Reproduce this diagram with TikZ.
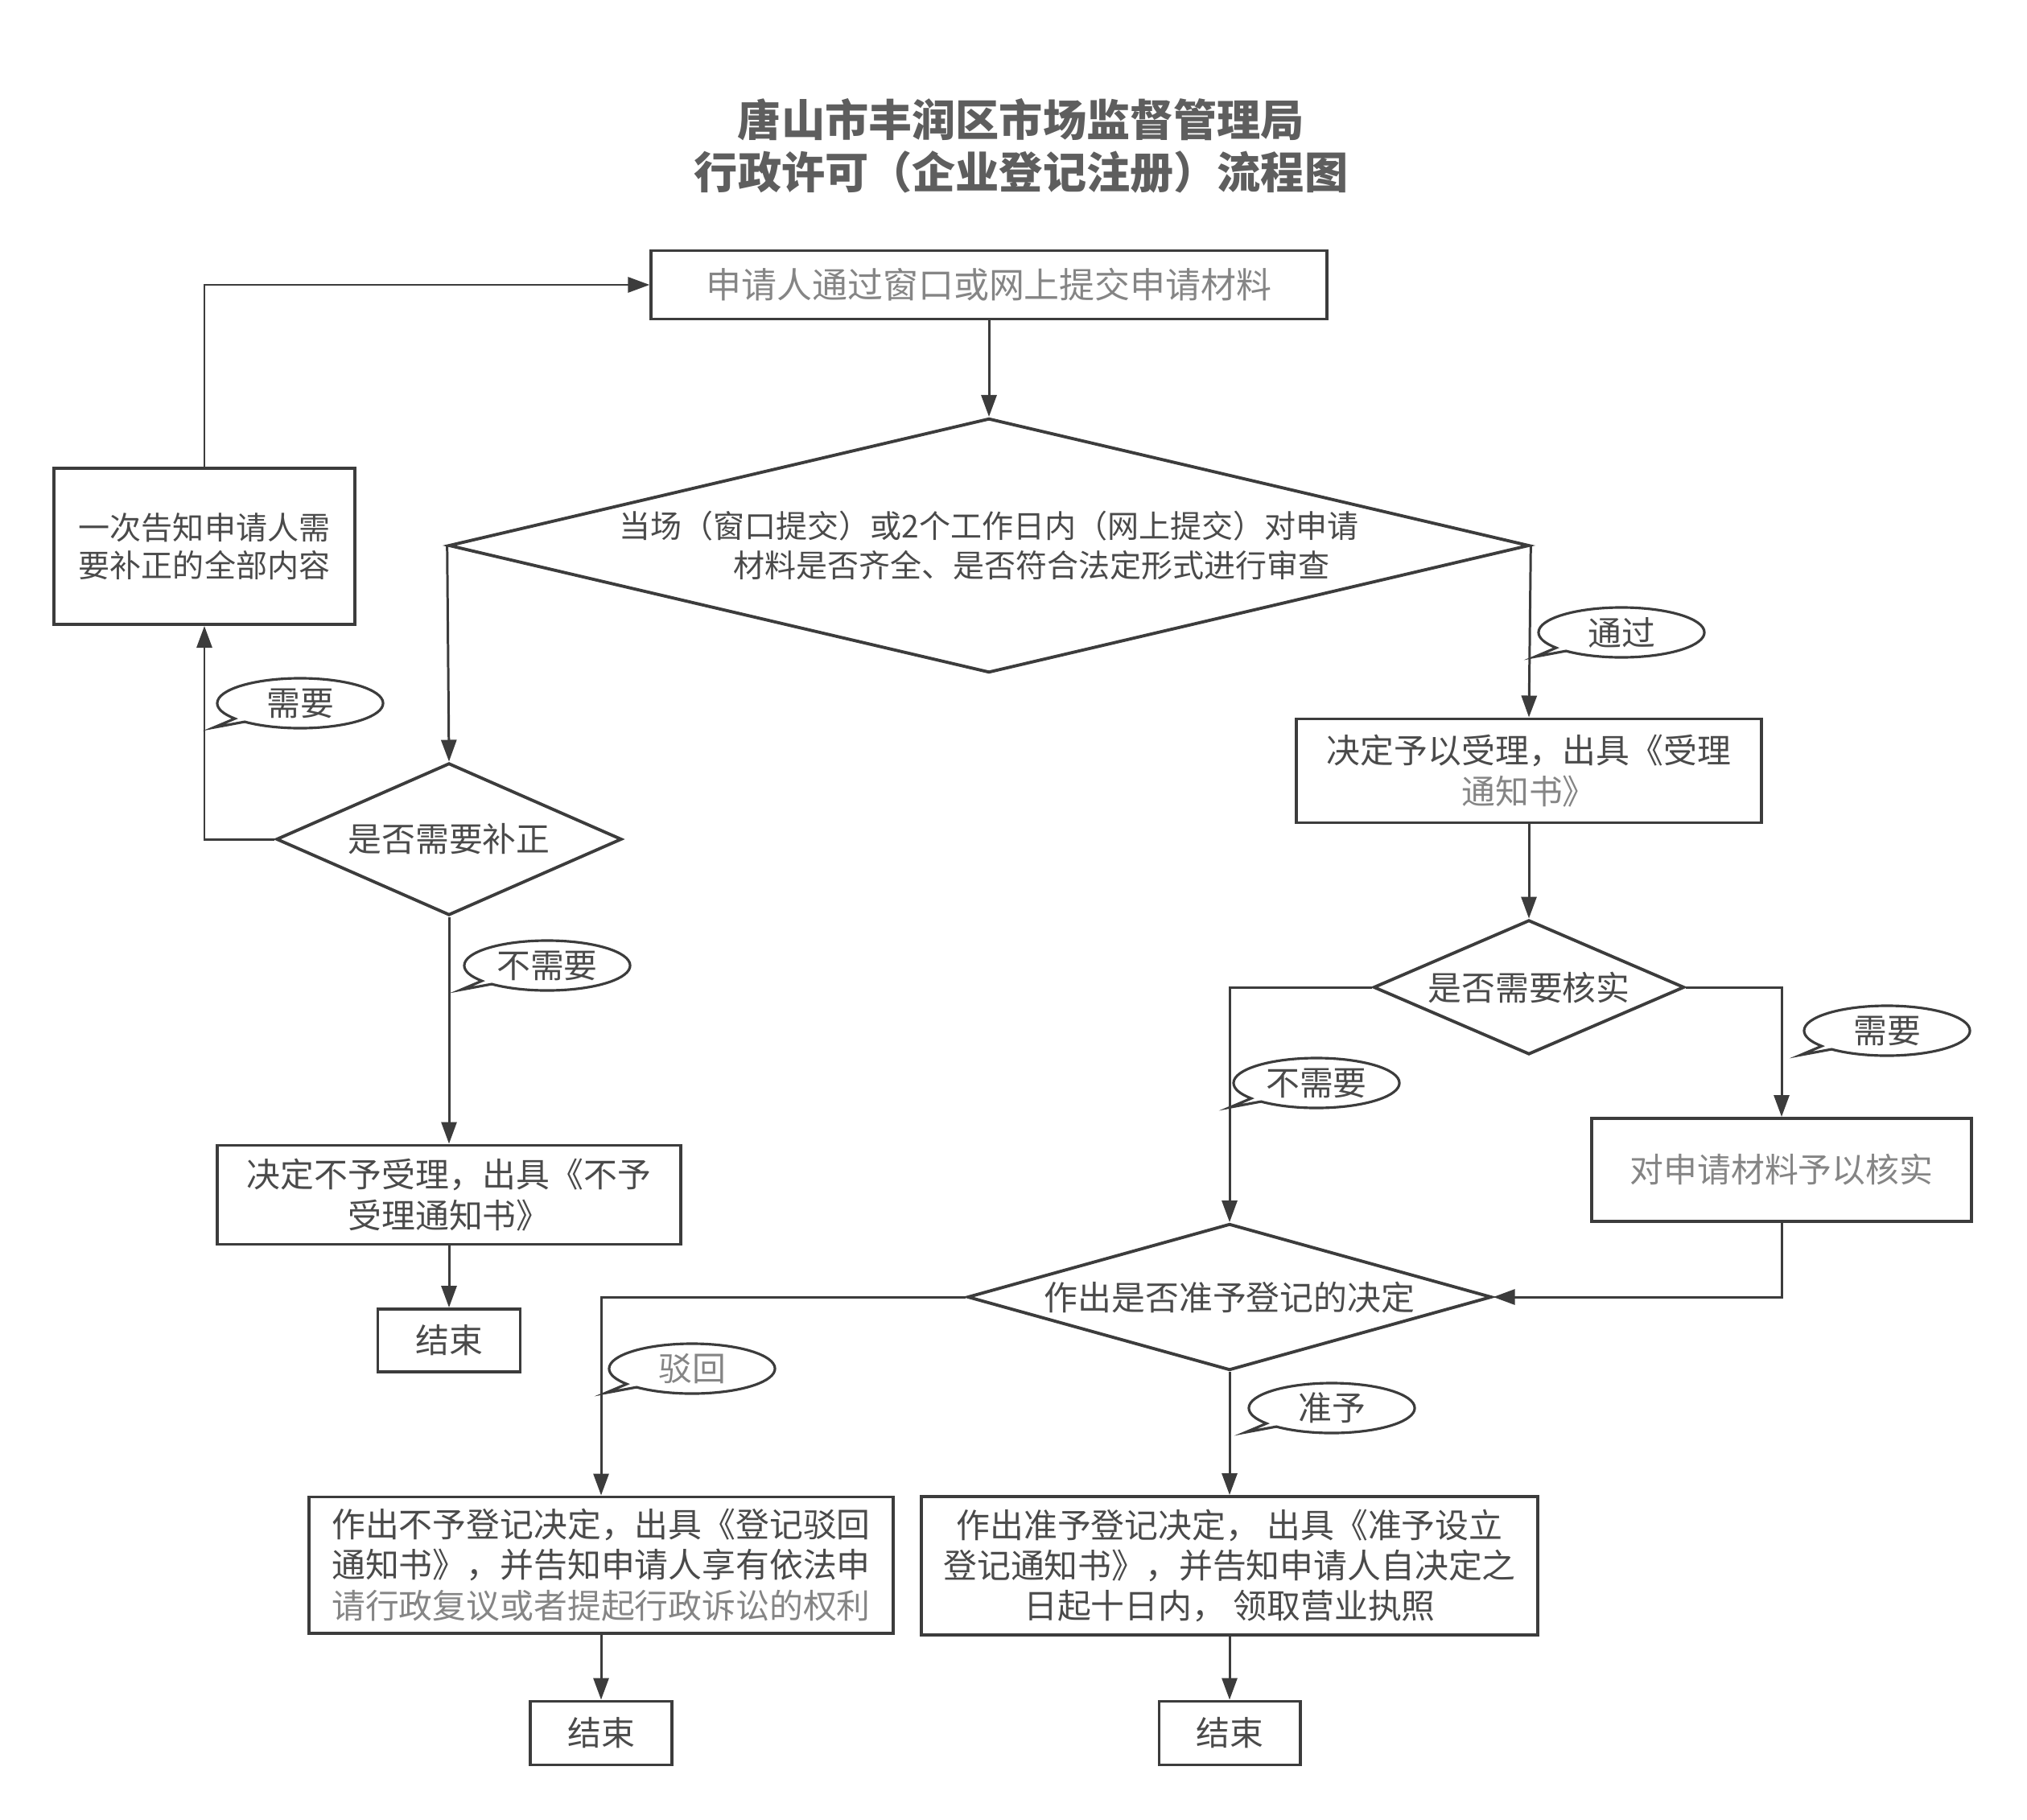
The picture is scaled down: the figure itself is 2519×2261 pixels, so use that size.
\documentclass[tikz,border=0pt]{standalone}
\usepackage{fontspec}
\setmainfont{Noto Sans CJK SC}
\usetikzlibrary{shapes.geometric,shapes.callouts,arrows.meta}

\definecolor{txtgray}{HTML}{4A4A4A}
\definecolor{lightgray}{HTML}{858585}
\definecolor{linegray}{HTML}{3C3C3C}
\definecolor{titlegray}{HTML}{5E5E5E}

\begin{document}
\begin{tikzpicture}[x=0.01cm, y=-0.01cm,
    box/.style={draw=linegray, line width=1.1pt, text=txtgray, align=center, inner sep=0pt,
        font=\fontsize{11.9pt}{14.3pt}\selectfont},
    decision/.style={draw=linegray, line width=1.1pt, diamond, text=txtgray, align=center, inner sep=0pt,
        font=\fontsize{11.9pt}{14.3pt}\selectfont},
    bubble/.style={draw=linegray, line width=0.9pt, ellipse callout, text=txtgray, inner sep=0pt,
        minimum width=2.06cm, minimum height=0.62cm, callout pointer arc=10,
        callout relative pointer={(-0.32cm,-0.09cm)}, font=\fontsize{11.9pt}{14pt}\selectfont},
    flow/.style={draw=linegray, line width=0.85pt, -{Triangle[length=0.27cm,width=0.19cm]}}]
    \useasboundingbox (0,0) rectangle (2519,2261);

    % Title
    \node[text=titlegray, align=center, font=\bfseries\fontsize{15.4pt}{18.5pt}\selectfont] (ttl) at (1269,181)
        {唐山市丰润区市场监督管理局\\行政许可（企业登记注册）流程图};

    % Submission and formal review
    \node[box, minimum width=8.39cm, minimum height=0.85cm, text=lightgray,
        font=\fontsize{12.5pt}{15pt}\selectfont] (apply) at (1229,354) {申请人通过窗口或网上提交申请材料};
    \node[decision, minimum width=13.42cm, minimum height=3.16cm, aspect=4.25,
        font=\fontsize{11.1pt}{13.7pt}\selectfont] (review) at (1229,678)
        {当场（窗口提交）或2个工作日内（网上提交）对申请\\\hspace*{1.06cm}材料是否齐全、是否符合法定形式进行审查};

    % Left branch: correction
    \node[decision, minimum width=4.29cm, minimum height=1.89cm, aspect=2.27] (fix) at (558,1043) {是否需要补正};
    \node[box, minimum width=3.73cm, minimum height=1.94cm,
        font=\fontsize{11.1pt}{13.2pt}\selectfont] (notify) at (254,679) {一次告知申请人需\\要补正的全部内容};
    \node[box, minimum width=5.76cm, minimum height=1.23cm] (refuse) at (558,1485) {决定不予受理，出具《不予\\受理通知书》};
    \node[box, minimum width=1.77cm, minimum height=0.78cm] (end1) at (558,1666) {结束};

    % Right branch: acceptance and check
    \node[box, minimum width=5.77cm, minimum height=1.29cm] (accept) at (1900,958)
        {决定予以受理，出具《受理\\\textcolor{lightgray}{通知书》}};
    \node[decision, minimum width=3.86cm, minimum height=1.67cm, aspect=2.31] (check) at (1900,1227) {是否需要核实};
    \node[box, minimum width=4.71cm, minimum height=1.28cm, text=lightgray] (verify) at (2214,1454) {对申请材料予以核实};
    \node[decision, minimum width=6.51cm, minimum height=1.82cm, aspect=3.58] (decide) at (1528,1612) {作出是否准予登记的决定};

    % Decisions
    \node[box, minimum width=7.26cm, minimum height=1.69cm] (reject) at (747,1945)
        {作出不予登记决定，出具《登记驳回\\通知书》，并告知申请人享有依法申\\\textcolor{lightgray}{请行政复议或者提起行政诉讼的权利}};
    \node[box, minimum width=7.65cm, minimum height=1.72cm] (approve) at (1528,1946)
        {作出准予登记决定， 出具《准予设立\\登记通知书》，并告知申请人自决定之\\日起十日内， 领取营业执照};
    \node[box, minimum width=1.76cm, minimum height=0.79cm] (end2) at (747,2154) {结束};
    \node[box, minimum width=1.75cm, minimum height=0.79cm] (end3) at (1528,2154) {结束};

    % Arrows
    \draw[flow] (apply) -- (review);
    \draw[flow] (review.west) -- (fix.north);
    \draw[flow] (review.east) -- (accept.north);
    \draw[flow] (fix.west) -| (notify.south);
    \draw[flow] (notify.north) |- (apply.west);
    \draw[flow] (fix) -- (refuse);
    \draw[flow] (refuse) -- (end1);
    \draw[flow] (accept) -- (check);
    \draw[flow] (check.west) -| (decide.north);
    \draw[flow] (check.east) -| (verify.north);
    \draw[flow] (verify.south) |- (decide.east);
    \draw[flow] (decide.west) -| (reject.north);
    \draw[flow] (decide) -- (approve);
    \draw[flow] (reject) -- (end2);
    \draw[flow] (approve) -- (end3);

    % Labels
    \node[bubble] (lbneed) at (373,874) {需要};
    \node[bubble] (lbpass) at (2015,786) {通过};
    \node[bubble] (lbnoneed) at (680,1200) {不需要};
    \node[bubble] (lbnocheck) at (1636,1346) {不需要};
    \node[bubble] (lbcheck) at (2345,1281) {需要};
    \node[bubble, text=lightgray] (lbreject) at (860,1701) {驳回};
    \node[bubble] (lbgrant) at (1655,1750) {准予};
\end{tikzpicture}
\end{document}
